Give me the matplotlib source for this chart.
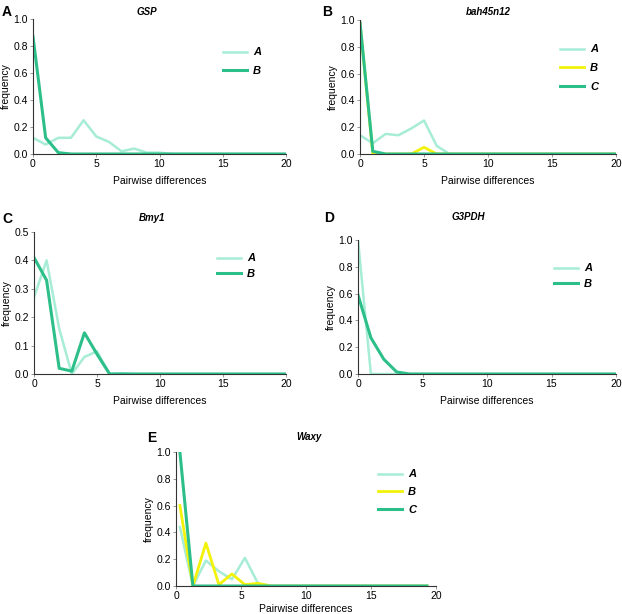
"""Pairwise-difference frequency distributions, five loci in one figure."""
import matplotlib
matplotlib.use("Agg")
import matplotlib.pyplot as plt
from matplotlib.ticker import FormatStrFormatter
import numpy as np

plt.rcParams["font.family"] = ["Liberation Sans", "DejaVu Sans"]

LIGHT = "#a6ecd6"
DARK = "#2dbf8a"
YELLOW = "#f2f20a"

W, H = 622, 614

x_int = np.arange(21)

# GSP
gsp_a = [0.12, 0.07, 0.12, 0.12, 0.25, 0.13, 0.09, 0.02, 0.04, 0.01, 0.01] + [0.0] * 10
gsp_b = [0.87, 0.12, 0.01] + [0.0] * 18

# bah45n12
bah_a = [0.14, 0.08, 0.15, 0.14, 0.19, 0.25, 0.06, 0.0] + [0.0] * 13
bah_b = [0.98, 0.0, 0.0, 0.0, 0.0, 0.05, 0.0] + [0.0] * 14
bah_c = [0.98, 0.02] + [0.0] * 19

# Bmy1
bmy_a = [0.27, 0.40, 0.16, 0.0, 0.06, 0.08, 0.0, 0.003] + [0.0] * 13
bmy_b = [0.41, 0.33, 0.02, 0.01, 0.145, 0.07, 0.0] + [0.0] * 14

# G3PDH
g3_a = [1.0, 0.0] + [0.0] * 19
g3_b = [0.59, 0.27, 0.11, 0.015, 0.0] + [0.0] * 16

# Waxy (plotted with a small offset in the original)
waxy_x = np.arange(20) + 0.3
waxy_a = [0.44, 0.0, 0.19, 0.11, 0.05, 0.21, 0.02, 0.0] + [0.0] * 12
waxy_b = [0.60, 0.0, 0.32, 0.01, 0.09, 0.01, 0.02, 0.0] + [0.0] * 12
waxy_c = [1.0, 0.0] + [0.0] * 18

# layout in pixels: axes box (left, top, right, bottom), letter (x, y), title (x, y),
# legend (handle x, first row y, row spacing), x-label pad
panels = [
    dict(letter="A", title="GSP", box=(33, 19, 286, 154), lpos=(2, 12), tpos=(147, 12),
         leg=(223, 51, 20), xpad=5, ymax=1.0, xs=x_int,
         series=[("A", gsp_a, LIGHT, 1.8), ("B", gsp_b, DARK, 2.2)]),
    dict(letter="B", title="bah45n12", box=(360, 20, 616, 154), lpos=(322, 12), tpos=(488, 12),
         leg=(560, 48, 20), xpad=5, ymax=1.0, xs=x_int,
         series=[("A", bah_a, LIGHT, 1.8), ("B", bah_b, YELLOW, 2.0), ("C", bah_c, DARK, 2.2)]),
    dict(letter="C", title="Bmy1", box=(34, 232, 286, 374), lpos=(2, 219), tpos=(152, 218),
         leg=(217, 257, 17), xpad=5, ymax=0.5, xs=x_int,
         series=[("A", bmy_a, LIGHT, 1.8), ("B", bmy_b, DARK, 2.2)]),
    dict(letter="D", title="G3PDH", box=(358, 240, 616, 374), lpos=(324, 218), tpos=(468, 217),
         leg=(554, 267, 17), xpad=5, ymax=1.0, xs=x_int,
         series=[("A", g3_a, LIGHT, 1.8), ("B", g3_b, DARK, 2.2)]),
    dict(letter="E", title="Waxy", box=(176, 452, 436, 586), lpos=(147, 438), tpos=(309, 437),
         leg=(378, 473, 19), xpad=2.5, ymax=1.0, xs=waxy_x,
         series=[("A", waxy_a, LIGHT, 1.8), ("B", waxy_b, YELLOW, 2.0), ("C", waxy_c, DARK, 2.2)]),
]

fig = plt.figure(figsize=(W / 100, H / 100), dpi=100)

for p in panels:
    l, t, r, b = p["box"]
    ax = fig.add_axes([l / W, 1 - b / H, (r - l) / W, (b - t) / H])
    for label, ys, color, lw in p["series"]:
        ax.plot(p["xs"][:len(ys)], ys, color=color, lw=lw, label=label)
    ax.set_xlim(0, 20)
    ax.set_ylim(0, p["ymax"])
    ax.set_xticks([0, 5, 10, 15, 20])
    if p["ymax"] == 0.5:
        ax.set_yticks([0, 0.1, 0.2, 0.3, 0.4, 0.5])
    else:
        ax.set_yticks([0, 0.2, 0.4, 0.6, 0.8, 1.0])
    ax.yaxis.set_major_formatter(FormatStrFormatter("%.1f"))
    for side in ("top", "right"):
        ax.spines[side].set_visible(False)
    for side in ("left", "bottom"):
        ax.spines[side].set_color("#333333")
        ax.spines[side].set_linewidth(0.8)
    ax.tick_params(length=2, width=0.6, color="#888888", labelsize=7.5, pad=1.5)
    ax.set_xlabel("Pairwise differences", fontsize=7.5, labelpad=p["xpad"])
    ax.set_ylabel("frequency", fontsize=7.5, labelpad=2)

    fig.text(p["lpos"][0] / W, 1 - p["lpos"][1] / H, p["letter"], fontsize=10,
             fontweight="bold", ha="left", va="center")
    fig.text(p["tpos"][0] / W, 1 - p["tpos"][1] / H, p["title"], fontsize=7,
             fontweight="bold", fontstyle="italic", ha="center", va="center")

    hx, hy, gap = p["leg"]
    fontpx = 8 * 100 / 72
    ax.legend(loc="upper left", bbox_to_anchor=(hx / W, 1 - (hy - fontpx / 2 + 2) / H),
              bbox_transform=fig.transFigure, frameon=False, borderpad=0, borderaxespad=0,
              handlelength=2.2, handletextpad=0.5, labelspacing=(gap - fontpx) / fontpx,
              prop={"size": 8, "weight": "bold", "style": "italic"})

fig.savefig("out.png", dpi=100)
